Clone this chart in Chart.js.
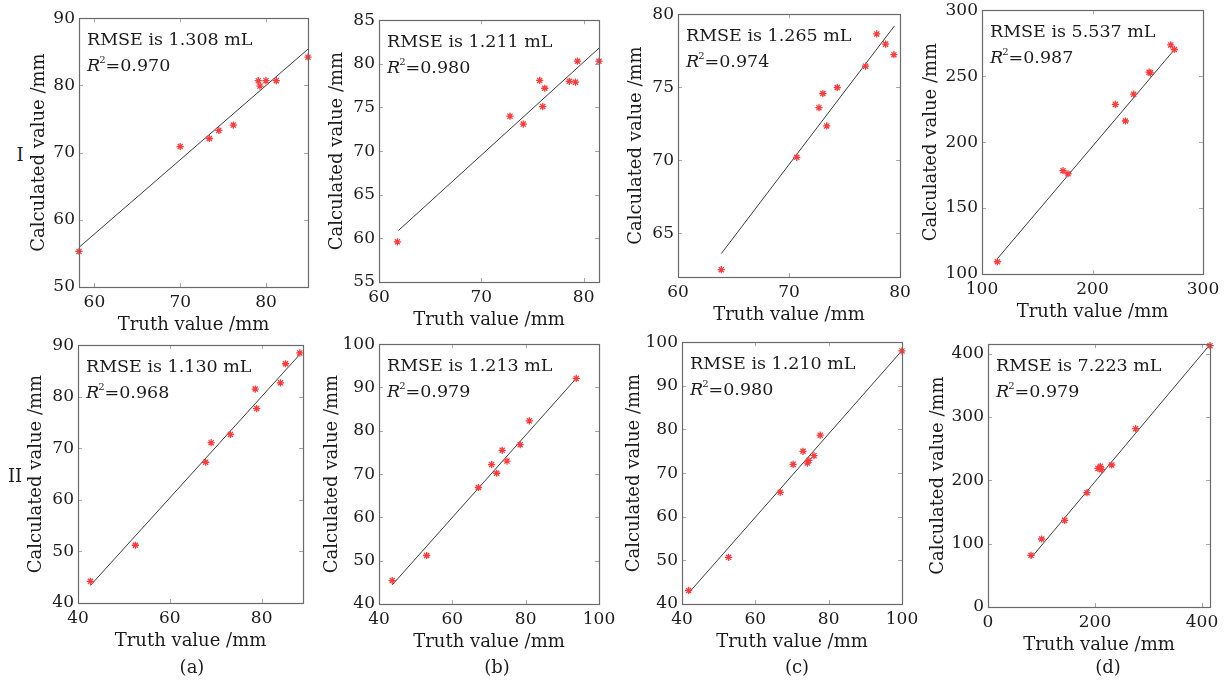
<!DOCTYPE html>
<html><head><meta charset="utf-8">
<script src="https://cdn.jsdelivr.net/npm/chart.js@4/dist/chart.umd.min.js"></script>
<style>
html,body{margin:0;padding:0;background:#fff;width:1227px;height:685px;overflow:hidden;}
#wrap{position:relative;width:1227px;height:685px;}
canvas{position:absolute;}
.lbl{position:absolute;font-family:"DejaVu Serif","Liberation Serif",serif;font-size:18px;color:#1c1c1c;transform:translate(-50%,-50%);white-space:nowrap;}
</style></head><body><div id="wrap"></div>
<script>
// ---------- data ----------
// Row I
const truthIa = [58.2, 70.0, 73.4, 74.5, 76.2, 79.1, 79.3, 80.0, 81.2, 84.9];
const calcIa  = [55.3, 70.9, 72.1, 73.3, 74.1, 80.7, 79.9, 80.7, 80.7, 84.2];
const fitIa   = [[58.2, 55.9], [84.9, 85.4]];

const truthIb = [61.8, 72.8, 74.1, 75.7, 76.0, 76.2, 78.6, 79.2, 79.4, 81.5];
const calcIb  = [59.6, 74.0, 73.1, 78.1, 75.1, 77.2, 78.0, 77.9, 80.3, 80.3];
const fitIb   = [[61.9, 60.9], [81.5, 81.8]];

const truthIc = [63.9, 70.7, 72.7, 73.05, 73.4, 74.35, 76.9, 77.9, 78.7, 79.45];
const calcIc  = [62.5, 70.2, 73.6, 74.57, 72.35, 74.98, 76.44, 78.65, 77.95, 77.23];
const fitIc   = [[63.9, 63.6], [79.5, 79.2]];

const truthId = [113.9, 173.3, 177.8, 220.7, 229.8, 237.3, 251.2, 252.4, 270.8, 274.1];
const calcId  = [109.3, 178.3, 176.0, 228.6, 216.0, 236.3, 253.0, 252.5, 273.7, 270.2];
const fitId   = [[113.9, 111.6], [274.5, 270.5]];

// Row II
const truthIIa = [42.7, 52.5, 67.8, 69.0, 73.2, 78.6, 78.9, 84.1, 85.2, 88.3];
const calcIIa  = [44.2, 51.2, 67.3, 71.1, 72.7, 81.5, 77.7, 82.7, 86.4, 88.5];
const fitIIa   = [[42.7, 43.4], [88.5, 88.4]];

const truthIIb = [43.6, 53.0, 67.1, 70.7, 72.1, 73.6, 74.9, 78.5, 81.0, 93.8];
const calcIIb  = [45.4, 51.2, 66.9, 72.2, 70.2, 75.5, 73.0, 76.8, 82.3, 92.1];
const fitIIb   = [[43.6, 44.4], [93.9, 92.2]];

const truthIIc = [41.8, 52.7, 66.8, 70.3, 73.0, 74.2, 74.6, 76.0, 77.7, 100.0];
const calcIIc  = [43.1, 50.7, 65.6, 72.0, 75.0, 72.3, 72.9, 74.0, 78.7, 98.0];
const fitIIc   = [[41.8, 42.5], [100.0, 98.1]];

const truthIId = [80.4, 100.3, 143.3, 185.0, 205.6, 210.0, 212.5, 231.2, 276.0, 415.0];
const calcIId  = [81.6, 107.4, 136.8, 180.5, 218.9, 222.1, 216.8, 224.2, 281.6, 412.6];
const fitIId   = [[80.4, 77.4], [415.0, 414.5]];

// axis limits and ticks, panel order: Ia Ib Ic Id IIa IIb IIc IId
const xLimits = [[58.2, 84.9], [60, 81.5], [60, 80], [100, 300], [40, 89], [40, 100], [40, 100], [0, 415]];
const yLimits = [[50, 90], [55, 85], [62, 80], [100, 300], [40, 90], [40, 100], [40, 100], [0, 415]];
const xTickValues = [[60, 70, 80], [60, 70, 80], [60, 70, 80], [100, 200, 300], [40, 60, 80], [40, 60, 80, 100], [40, 60, 80, 100], [0, 200, 400]];
const yTickValues = [[50, 60, 70, 80, 90], [55, 60, 65, 70, 75, 80, 85], [65, 70, 75, 80], [100, 150, 200, 250, 300],
                     [40, 50, 60, 70, 80, 90], [40, 50, 60, 70, 80, 90, 100], [40, 50, 60, 70, 80, 90, 100], [0, 100, 200, 300, 400]];
const rmseTexts = ['1.308', '1.211', '1.265', '5.537', '1.130', '1.213', '1.210', '7.223'];
const r2Texts   = ['0.970', '0.980', '0.974', '0.987', '0.968', '0.979', '0.980', '0.979'];
const rowLabels = ['I', 'II'];
const subLabels = ['(a)', '(b)', '(c)', '(d)'];
const xTitle = 'Truth value /mm';
const yTitle = 'Calculated value /mm';

// ---------- layout (positions only) ----------
const FONT = '"DejaVu Serif", "Liberation Serif", serif';
const TXT = '#1c1c1c';
// [boxLeft, boxTop, boxRight, boxBottom, yTitleDistance]
const geom = [
  [79, 18, 308, 287, 39], [379, 20, 599, 282, 41], [678, 14, 900, 277, 41], [982, 10, 1203, 274, 50],
  [78, 345, 303, 603, 41], [379, 344, 599, 604, 46], [682, 342, 902, 604, 47], [988, 344, 1210, 607, 49]
];
const seriesX = [truthIa, truthIb, truthIc, truthId, truthIIa, truthIIb, truthIIc, truthIId];
const seriesY = [calcIa, calcIb, calcIc, calcId, calcIIa, calcIIb, calcIIc, calcIId];
const fits = [fitIa, fitIb, fitIc, fitId, fitIIa, fitIIb, fitIIc, fitIId];

const PAD_T = 14, PAD_R = 22, X_H = 49;

const framePlugin = {
  id: 'frame',
  afterDraw(chart, args, o) {
    const {ctx, chartArea: a, scales} = chart;
    ctx.save();
    // inward tick marks
    ctx.strokeStyle = '#a8a8a8';
    ctx.lineWidth = 1;
    ctx.beginPath();
    scales.x.ticks.forEach(t => {
      const p = Math.round(scales.x.getPixelForValue(t.value)) + 0.5;
      ctx.moveTo(p, a.bottom); ctx.lineTo(p, a.bottom - 4);
      ctx.moveTo(p, a.top); ctx.lineTo(p, a.top + 4);
    });
    scales.y.ticks.forEach(t => {
      const p = Math.round(scales.y.getPixelForValue(t.value)) + 0.5;
      ctx.moveTo(a.left, p); ctx.lineTo(a.left + 4, p);
      ctx.moveTo(a.right, p); ctx.lineTo(a.right - 4, p);
    });
    ctx.stroke();
    // box
    ctx.strokeStyle = '#6a6a6a';
    ctx.lineWidth = 1.2;
    ctx.strokeRect(Math.round(a.left) + 0.5, Math.round(a.top) + 0.5, Math.round(a.right - a.left), Math.round(a.bottom - a.top));
    // annotation text
    const x0 = a.left + 8;
    ctx.fillStyle = TXT;
    ctx.textBaseline = 'middle';
    ctx.textAlign = 'left';
    ctx.font = '17.5px ' + FONT;
    ctx.fillText('RMSE is ' + o.rmse + ' mL', x0, a.top + 22);
    ctx.font = 'italic 17.5px ' + FONT;
    ctx.fillText('R', x0, a.top + 48);
    const rw = ctx.measureText('R').width;
    ctx.font = '10px ' + FONT;
    ctx.fillText('2', x0 + rw - 1, a.top + 42);
    const sw = ctx.measureText('2').width;
    ctx.font = '17.5px ' + FONT;
    ctx.fillText('=' + o.r2, x0 + rw - 1 + sw, a.top + 48);
    ctx.restore();
  }
};

const wrap = document.getElementById('wrap');
geom.forEach((g, i) => {
  const [L, T, R, B, d] = g;
  const yW = Math.round(d + 10.8);
  const cv = document.createElement('canvas');
  const w = yW + (R - L) + PAD_R, h = PAD_T + (B - T) + X_H;
  cv.width = w; cv.height = h;
  cv.style.left = (L - yW) + 'px'; cv.style.top = (T - PAD_T) + 'px';
  cv.style.width = w + 'px'; cv.style.height = h + 'px';
  wrap.appendChild(cv);
  const tickFont = {family: FONT, size: 17};
  const titleFont = {family: FONT, size: 18, lineHeight: 1.2};
  new Chart(cv, {
    type: 'scatter',
    data: {
      datasets: [
        {type: 'line', data: fits[i].map(p => ({x: p[0], y: p[1]})), borderColor: '#3c3c3c', borderWidth: 1,
         pointRadius: 0, fill: false, clip: false, order: 2, tension: 0},
        {data: seriesX[i].map((x, k) => ({x: x, y: seriesY[i][k]})), pointStyle: 'star', pointRadius: 3.6,
         borderColor: '#ff3a3a', backgroundColor: '#ff3a3a', borderWidth: 1.3, clip: false, order: 1}
      ]
    },
    options: {
      responsive: false, animation: false, devicePixelRatio: 1,
      layout: {padding: {top: PAD_T, right: PAD_R, left: 0, bottom: 0}},
      plugins: {legend: {display: false}, tooltip: {enabled: false},
                frame: {rmse: rmseTexts[i], r2: r2Texts[i]}},
      scales: {
        x: {type: 'linear', min: xLimits[i][0], max: xLimits[i][1],
            afterBuildTicks: s => { s.ticks = xTickValues[i].map(v => ({value: v})); },
            afterFit: s => { s.height = X_H; },
            grid: {display: false, drawTicks: false}, border: {display: false},
            ticks: {font: tickFont, color: TXT, padding: 5, autoSkip: false, maxRotation: 0},
            title: {display: true, text: xTitle, font: titleFont, color: TXT, padding: 0}},
        y: {type: 'linear', min: yLimits[i][0], max: yLimits[i][1],
            afterBuildTicks: s => { s.ticks = yTickValues[i].map(v => ({value: v})); },
            afterFit: s => { s.width = yW; },
            grid: {display: false, drawTicks: false}, border: {display: false},
            ticks: {font: tickFont, color: TXT, padding: 4, autoSkip: false},
            title: {display: true, text: yTitle, font: titleFont, color: TXT, padding: 0}}
      }
    },
    plugins: [framePlugin]
  });
});

// row labels and sub-captions
function addLabel(text, x, y) {
  const el = document.createElement('div');
  el.className = 'lbl'; el.textContent = text;
  el.style.left = x + 'px'; el.style.top = y + 'px';
  wrap.appendChild(el);
}
addLabel(rowLabels[0], 20, 154);
addLabel(rowLabels[1], 15, 475);
const capX = [192, 497, 797, 1108];
subLabels.forEach((s, i) => addLabel(s, capX[i], 666));
</script></body></html>
